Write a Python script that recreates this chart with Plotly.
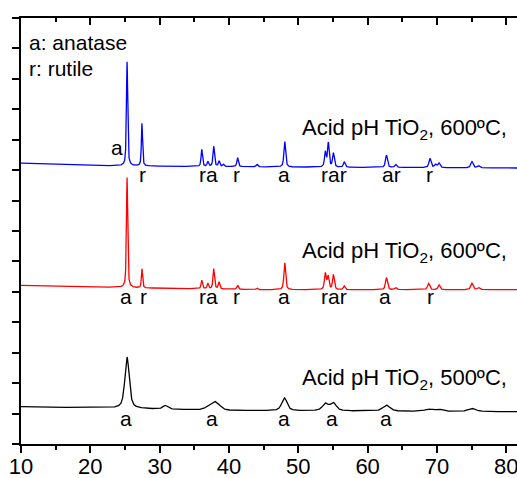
import numpy as np
import plotly.graph_objects as go

# ---- XRD data: 2-theta axis and peak tables (position, height, FWHM) ----
two_theta = np.arange(10.0, 81.6, 0.02)

# Acid pH TiO2, 600 ºC (upper pattern, blue)
blue_base_x = [10, 21, 30, 50, 81.6]
blue_base_y = [9.23, 9.15, 9.13, 9.10, 9.07]
blue_pos = [25.30, 27.45, 36.08, 36.95, 37.80, 38.57, 39.20, 41.25, 44.05, 48.05,
            53.90, 54.33, 55.07, 56.63, 62.72, 64.05, 69.00, 69.80, 70.30, 75.05, 76.00]
blue_hgt = [3.42, 1.41, 0.56, 0.16, 0.66, 0.18, 0.07, 0.30, 0.08, 0.84,
            0.49, 0.79, 0.46, 0.18, 0.40, 0.10, 0.30, 0.10, 0.15, 0.20, 0.07]
blue_fwhm = [0.22, 0.20, 0.24, 0.24, 0.26, 0.26, 0.26, 0.26, 0.28, 0.30,
             0.28, 0.28, 0.30, 0.30, 0.34, 0.34, 0.36, 0.36, 0.36, 0.40, 0.40]

# Acid pH TiO2, 600 ºC (middle pattern, red)
red_base_x = [10, 27, 45, 81.6]
red_base_y = [5.21, 5.13, 5.07, 5.07]
red_pos = [25.30, 27.45, 36.08, 36.95, 37.80, 38.57, 41.25, 44.05, 48.05,
           53.90, 54.30, 55.07, 56.63, 62.72, 64.05, 68.80, 70.30, 75.05, 76.00]
red_hgt = [3.62, 0.63, 0.28, 0.18, 0.66, 0.23, 0.13, 0.05, 0.89,
           0.53, 0.43, 0.49, 0.12, 0.40, 0.07, 0.21, 0.16, 0.21, 0.07]
red_fwhm = [0.22, 0.20, 0.24, 0.24, 0.26, 0.26, 0.26, 0.28, 0.30,
            0.30, 0.30, 0.30, 0.30, 0.34, 0.34, 0.36, 0.36, 0.40, 0.40]

# Acid pH TiO2, 500 ºC (lower pattern, black)
black_base_x = [10, 25, 40, 81.6]
black_base_y = [1.23, 1.17, 1.10, 1.06]
black_pos = [25.30, 30.80, 37.00, 37.90, 38.60, 48.00, 53.90, 55.05, 62.70, 68.80, 70.30, 75.10]
black_hgt = [1.68, 0.12, 0.10, 0.24, 0.10, 0.42, 0.23, 0.26, 0.20, 0.07, 0.07, 0.10]
black_fwhm = [0.75, 0.80, 1.00, 1.00, 1.00, 0.90, 1.00, 1.00, 1.20, 1.20, 1.20, 1.30]

# Phase labels under/near the reflections
blue_lbl_x = [23.9, 27.5, 37.1, 41.1, 47.9, 55.1, 63.5, 68.9]
blue_lbl_t = ["a", "r", "ra", "r", "a", "rar", "ar", "r"]
red_lbl_x = [25.2, 27.6, 37.1, 41.1, 48.0, 55.1, 62.5, 69.0]
red_lbl_t = ["a", "r", "ra", "r", "a", "rar", "a", "r"]
black_lbl_x = [25.2, 37.6, 47.9, 54.9, 62.7]
black_lbl_t = ["a", "a", "a", "a", "a"]

series_names = ["Acid pH TiO<sub>2</sub>, 600ºC,",
                "Acid pH TiO<sub>2</sub>, 600ºC,",
                "Acid pH TiO<sub>2</sub>, 500ºC,"]


def pattern(base_x, base_y, pos, hgt, fwhm, eta=0.6):
    y = np.interp(two_theta, base_x, base_y)
    for c, h, w in zip(pos, hgt, fwhm):
        u = (two_theta - c) / (w / 2.0)
        y = y + h * (eta / (1.0 + u ** 2) + (1 - eta) * np.exp(-np.log(2) * u ** 2))
    return y


FONT = "Liberation Sans, Arial, sans-serif"
X0, X1 = 10.0, 81.55

fig = go.Figure()
for bx, by, p, h, w, col in [
    (blue_base_x, blue_base_y, blue_pos, blue_hgt, blue_fwhm, "#0000ff"),
    (red_base_x, red_base_y, red_pos, red_hgt, red_fwhm, "#ff0000"),
    (black_base_x, black_base_y, black_pos, black_hgt, black_fwhm, "#000000"),
]:
    fig.add_trace(go.Scatter(x=two_theta, y=pattern(bx, by, p, h, w), mode="lines",
                             line=dict(color=col, width=1.3), showlegend=False,
                             hoverinfo="skip"))

# carrier trace so the top frame axis is drawn
fig.add_trace(go.Scatter(x=[X0, X1], y=[0, 0], xaxis="x2", mode="lines",
                         line=dict(width=0), showlegend=False, hoverinfo="skip"))

ann = []


def label(x, y, text, size=21, **kw):
    d = dict(x=x, y=y, text=text, showarrow=False, xref="x", yref="y",
             font=dict(family=FONT, size=size, color="black"))
    d.update(kw)
    ann.append(d)


for x, t in zip(blue_lbl_x, blue_lbl_t):
    label(x, 8.85 if t != "a" or x > 30 else 9.74, t)
for x, t in zip(red_lbl_x, red_lbl_t):
    label(x, 4.85, t)
for x, t in zip(black_lbl_x, black_lbl_t):
    label(x, 0.83, t)

label(10.9, 13.2, "a: anatase", xanchor="left")
label(10.9, 12.33, "r: rutile", xanchor="left")
label(80.4, 10.35, series_names[0], size=22, xanchor="right")
label(80.4, 6.32, series_names[1], size=22, xanchor="right")
label(80.4, 2.12, series_names[2], size=22, xanchor="right")

major = [10, 20, 30, 40, 50, 60, 70, 80]
minor = [15, 25, 35, 45, 55, 65, 75]

fig.update_layout(
    width=517, height=478,
    margin=dict(l=21, r=0, t=18, b=34, autoexpand=False),
    paper_bgcolor="white", plot_bgcolor="white",
    annotations=ann,
    xaxis=dict(range=[X0, X1], showgrid=False, zeroline=False, showline=True,
               automargin=False,
               linecolor="black", linewidth=1.5, ticks="outside", ticklen=7,
               tickwidth=1.5, tickcolor="black", tickvals=major,
               ticklabelstandoff=-5, ticklabeloverflow="allow",
               tickfont=dict(family=FONT, size=22, color="black"),
               minor=dict(ticks="outside", ticklen=4, tickwidth=1.5, tickcolor="black",
                          tickvals=minor)),
    xaxis2=dict(range=[X0, X1], overlaying="x", side="top", anchor="y",
                automargin=False,
                showgrid=False, zeroline=False, showline=True, linecolor="black",
                linewidth=1.5, ticks="inside", ticklen=7, tickwidth=1.5,
                tickcolor="black", tickvals=major, showticklabels=False,
                minor=dict(ticks="inside", ticklen=4, tickwidth=1.5, tickcolor="black",
                           tickvals=minor)),
    yaxis=dict(range=[0, 14], showgrid=False, zeroline=False, showline=True,
               automargin=False,
               linecolor="black", linewidth=1.5, ticks="outside", ticklen=7,
               tickwidth=1.5, tickcolor="black", dtick=1, tick0=0,
               showticklabels=False),
)

fig.write_html("out.html")
